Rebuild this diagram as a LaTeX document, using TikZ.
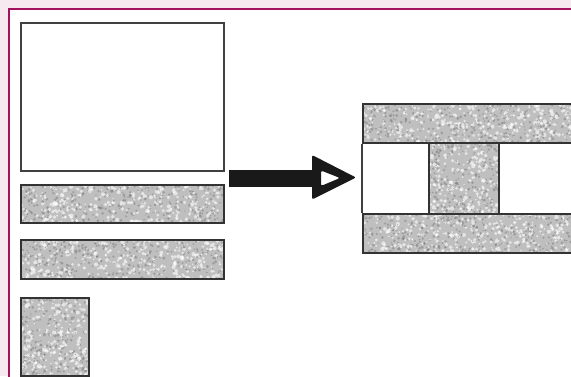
\documentclass[tikz,border=0pt]{standalone}
\usetikzlibrary{calc}
\definecolor{framemag}{RGB}{162,18,94}
\definecolor{bgpink}{RGB}{246,233,240}
\tikzset{
  plainbox/.style={draw=black!75, line width=1.5pt, fill=white, inner sep=0pt, anchor=north west},
  granite/.style={draw=black!80, line width=1.6pt, fill=black!25, inner sep=0pt, anchor=north west,
    path picture={
      \path let \p1=(path picture bounding box.south west), \p2=(path picture bounding box.north east) in
        \pgfextra{\xdef\gxa{\x1}\xdef\gya{\y1}\xdef\gxb{\x2}\xdef\gyb{\y2}};
      \foreach \k in {1,...,#1}{
        \pgfmathsetmacro\gx{\gxa+rnd*(\gxb-\gxa)}
        \pgfmathsetmacro\gy{\gya+rnd*(\gyb-\gya)}
        \pgfmathsetmacro\gs{0.8+rnd*1.3}
        \fill[white, opacity=0.6] (\gx pt,\gy pt) circle (\gs pt);
        \pgfmathsetmacro\gx{\gxa+rnd*(\gxb-\gxa)}
        \pgfmathsetmacro\gy{\gya+rnd*(\gyb-\gya)}
        \pgfmathsetmacro\gs{0.6+rnd*1.0}
        \fill[black!50, opacity=0.55] (\gx pt,\gy pt) circle (\gs pt);
      }
    }},
  framebox/.style={draw=framemag, line width=2.8pt, fill=white},
  arrowshaft/.style={line width=17pt, black!90},
}
\begin{document}
\begin{tikzpicture}[x=1pt, y=-1pt]
  \pgfmathsetseed{17}
  \useasboundingbox (0,0) rectangle (571,376);
  \fill[bgpink] (0,0) rectangle (571,376);
  \draw[framebox] (9,9) rectangle (600,400);

  % left side
  \node[plainbox, minimum width=203pt, minimum height=148pt] (big) at (20,22) {};
  \node[granite=330, minimum width=203pt, minimum height=38pt] (bar1) at (20,184) {};
  \node[granite=330, minimum width=203pt, minimum height=39pt] (bar2) at (20,239) {};
  \node[granite=230, minimum width=68pt, minimum height=78pt] (sq) at (20,297) {};

  % right assembly
  \node[granite=350, minimum width=218pt, minimum height=39pt] (rtop) at (362,103) {};
  \node[granite=350, minimum width=218pt, minimum height=39pt] (rbot) at (362,213) {};
  \node[granite=220, minimum width=70pt, minimum height=71pt] (rmid) at (428,142) {};
  \draw[draw=black!75, line width=1.5pt] (rtop.south west) -- (rbot.north west);

  % arrow
  \coordinate (ashaft) at ($(bar1.north east)+(4,-5.5)$);
  \coordinate (ahead) at (315,178.5);
  \draw[arrowshaft] (ashaft) -- (ahead);
  \fill[black!90, even odd rule, rounded corners=2pt]
    ($(ahead)+(-3,-23.5)$) -- ($(ahead)+(41,-1)$) -- ($(ahead)+(-3,21)$) -- cycle
    ($(ahead)+(6,-8)$) -- ($(ahead)+(25,-0.5)$) -- ($(ahead)+(6,7.5)$) -- cycle;
\end{tikzpicture}
\end{document}
